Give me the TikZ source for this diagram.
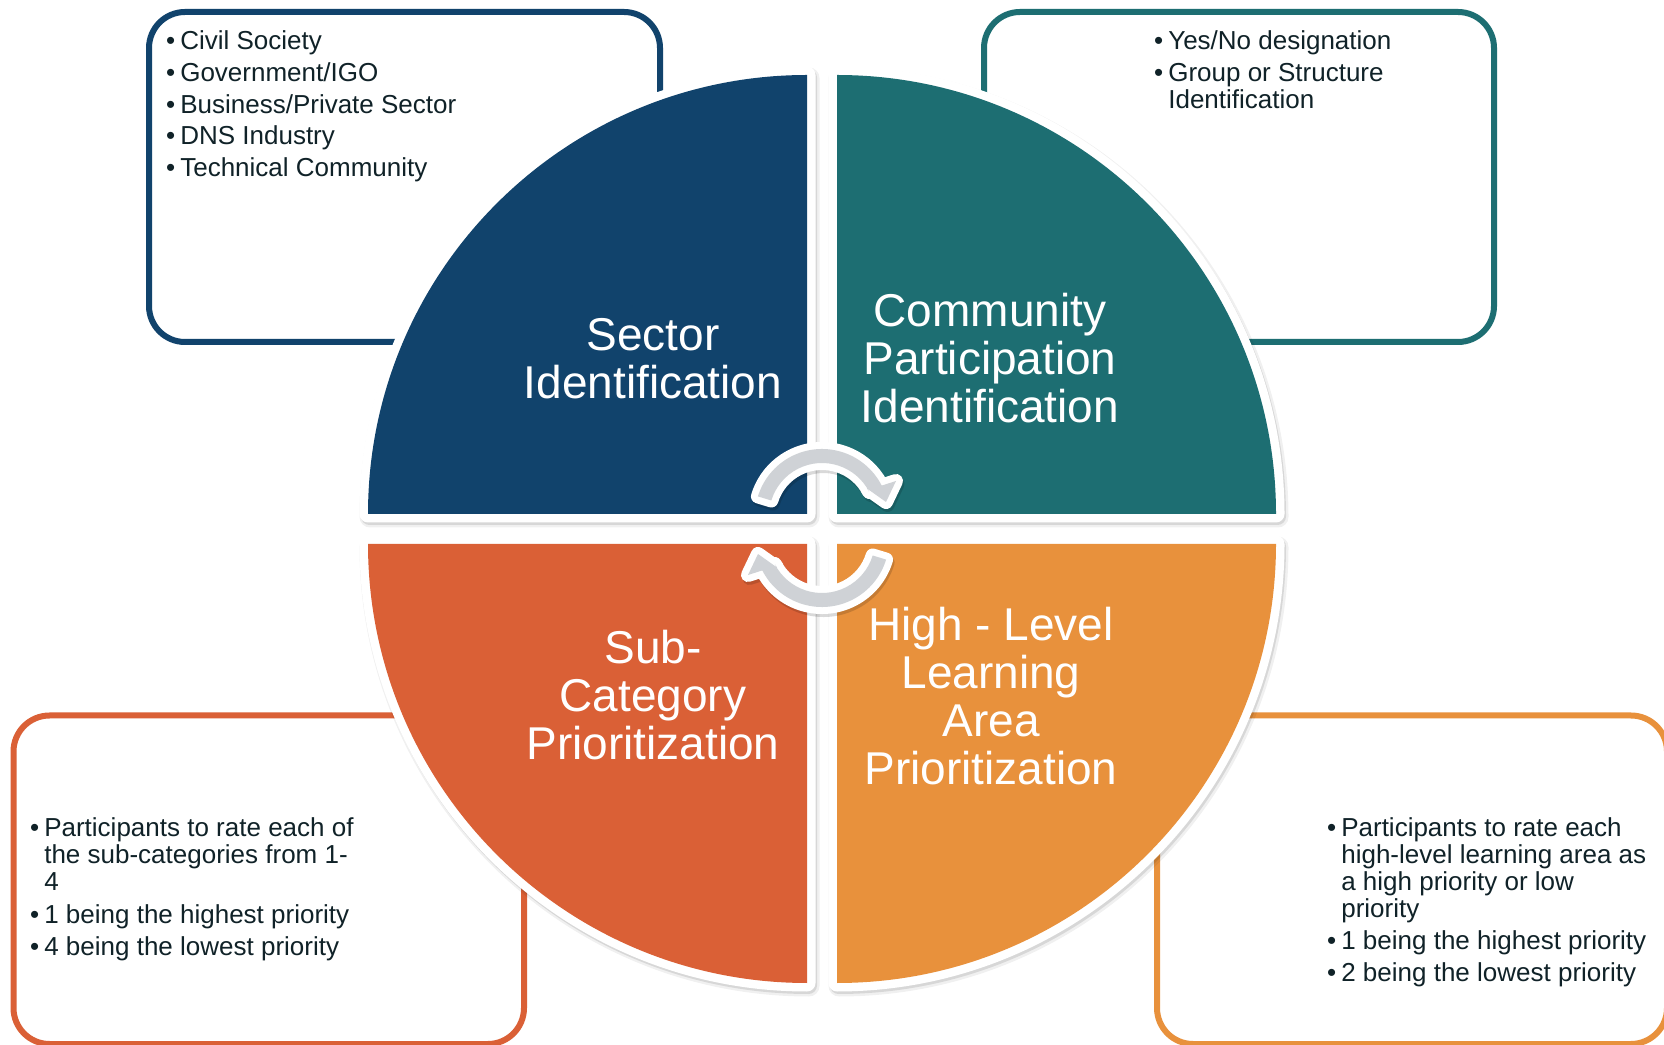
\documentclass[tikz,border=0pt]{standalone}
\usepackage{fontspec}
\setmainfont{Liberation Sans}
\definecolor{cnavy}{RGB}{17,67,108}
\definecolor{cteal}{RGB}{29,110,114}
\definecolor{cred}{RGB}{218,96,54}
\definecolor{corange}{RGB}{232,145,60}
\definecolor{ctext}{RGB}{16,34,40}
\definecolor{carrow}{RGB}{207,210,214}
\begin{document}
\begin{tikzpicture}[x=1pt,y=1pt,
  boxline/.style={line width=6pt, rounded corners=36pt},
  bultext/.style={anchor=base west, inner sep=0pt, text=ctext, font=\fontsize{26}{27}\selectfont},
  quadlabel/.style={anchor=base, inner sep=0pt, text=white, font=\fontsize{46}{48}\selectfont},
  curvarrow/.pic={\path[pic actions] (163:67pt) arc[start angle=163, end angle=27, radius=67pt]
      -- (74pt,35pt) -- (64pt,14pt) -- (45pt,27.5pt) -- (27:53pt)
      arc[start angle=27, end angle=163, radius=53pt] -- cycle;}
]
\useasboundingbox (0,0) rectangle (1664,1044);
\clip (0,0) rectangle (1664,1044);
\fill[white] (0,0) rectangle (1664,1044);

% side boxes
\draw[boxline, cnavy] (149,702) rectangle (660,1032);
\draw[boxline, cteal] (984,702) rectangle (1494,1032);
\draw[boxline, cred] (13.5,0) rectangle (524,328.5);
\draw[boxline, corange] (1157,0) rectangle (1667,328.5);

% box texts
\node[bultext] (tltext) at (166,994) {\begin{tabular}[t]{@{}l@{\hspace{5pt}}l@{}}
•&Civil Society\\[5pt]
•&Government/IGO\\[5pt]
•&Business/Private Sector\\[4pt]
•&DNS Industry\\[5pt]
•&Technical Community
\end{tabular}};
\node[bultext] (trtext) at (1154,994) {\begin{tabular}[t]{@{}l@{\hspace{5pt}}l@{}}
•&Yes/No designation\\[5pt]
•&Group or Structure\\
&Identification
\end{tabular}};
\node[bultext] (bltext) at (30,207) {\begin{tabular}[t]{@{}l@{\hspace{5pt}}l@{}}
•&Participants to rate each of\\
&the sub-categories from 1-\\
&4\\[6pt]
•&1 being the highest priority\\[5pt]
•&4 being the lowest priority
\end{tabular}};
\node[bultext] (brtext) at (1327,207) {\begin{tabular}[t]{@{}l@{\hspace{5pt}}l@{}}
•&Participants to rate each\\
&high-level learning area as\\
&a high priority or low\\
&priority\\[5pt]
•&1 being the highest priority\\[5pt]
•&2 being the lowest priority
\end{tabular}};

% quadrant shadows
\foreach \cx/\cy/\a in {807/530/180, 837/530/90, 837/500/0, 807/500/270}{
  \draw[black, opacity=0.06, line width=21pt, line join=round, shift={(2,-3)}]
    (\cx,\cy) -- ++(\a:439pt) arc[start angle=\a, end angle=\a-90, radius=439pt] -- cycle;
  \draw[black, opacity=0.10, line width=17pt, line join=round, shift={(1.5,-2.5)}]
    (\cx,\cy) -- ++(\a:439pt) arc[start angle=\a, end angle=\a-90, radius=439pt] -- cycle;
}
% quadrants
\foreach \cx/\cy/\a/\col in {807/530/180/cnavy, 837/530/90/cteal, 837/500/0/corange, 807/500/270/cred}{
  \draw[white, line width=17pt, line join=round]
    (\cx,\cy) -- ++(\a:439pt) arc[start angle=\a, end angle=\a-90, radius=439pt] -- cycle;
  \fill[\col]
    (\cx,\cy) -- ++(\a:439pt) arc[start angle=\a, end angle=\a-90, radius=439pt] -- cycle;
}

% quadrant labels
\node[quadlabel] (sector) at (653,693) {\begin{tabular}[t]{@{}c@{}}Sector\\Identification\end{tabular}};
\node[quadlabel] (community) at (990,717) {\begin{tabular}[t]{@{}c@{}}Community\\Participation\\Identification\end{tabular}};
\node[quadlabel] (subcat) at (653,380) {\begin{tabular}[t]{@{}c@{}}Sub-\\Category\\Prioritization\end{tabular}};
\node[quadlabel] (highlevel) at (991,403) {\begin{tabular}[t]{@{}c@{}}High - Level\\Learning\\Area\\Prioritization\end{tabular}};

% circular arrows
\pic[draw=black, draw opacity=0.15, line width=14pt, line join=round] at (823.5,525) {curvarrow};
\pic[rotate=180, draw=black, draw opacity=0.15, line width=14pt, line join=round] at (823.5,501) {curvarrow};
\pic[draw=white, line width=14pt, line join=round] at (822,528) {curvarrow};
\pic[rotate=180, draw=white, line width=14pt, line join=round] at (822,504) {curvarrow};
\pic[fill=carrow] at (822,528) {curvarrow};
\pic[rotate=180, fill=carrow] at (822,504) {curvarrow};
\end{tikzpicture}
\end{document}
